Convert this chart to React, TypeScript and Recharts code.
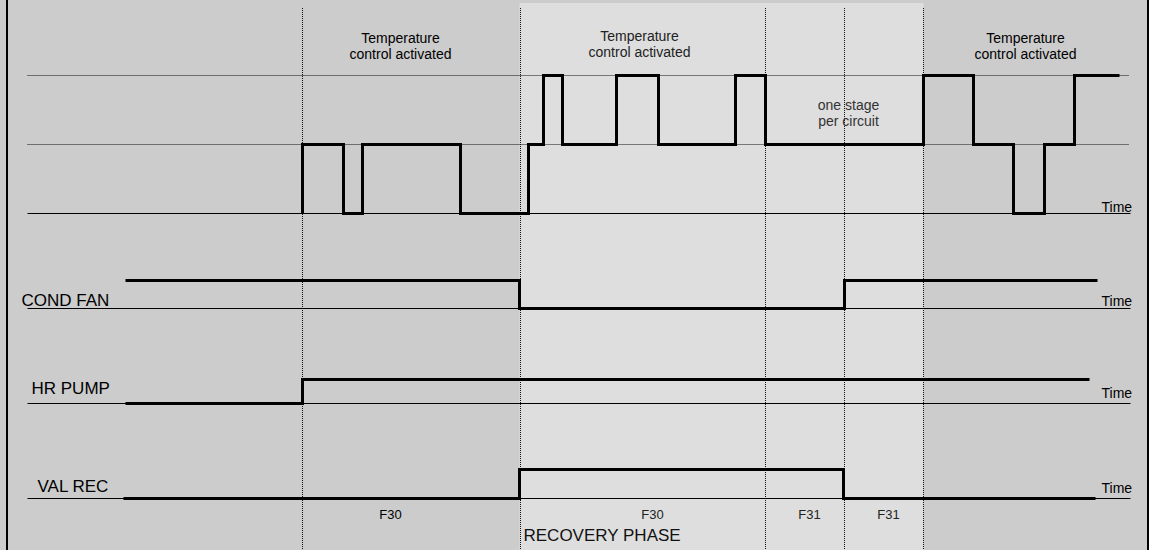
import React from 'react';
import {
  ComposedChart,
  Line,
  XAxis,
  YAxis,
  ReferenceLine,
  ReferenceArea,
  ReferenceDot,
} from 'recharts';

const W = 1149;
const H = 550;
const FONT = '"Liberation Sans", Arial, Helvetica, sans-serif';

// ---- time axis (arbitrary time units) ----
const timeStart = 27;
const timeEnd = 1130;
const phaseMarks = [302, 520, 765, 844, 923];
const recoveryStart = 519;
const recoveryEnd = 923;

// ---- signals (time of change, level after change) ----
const stageTimes = [302, 302, 343, 362, 460, 528, 543, 562, 616, 658, 735, 765, 923, 973, 1013, 1044, 1074, 1119];
const stageLevels = [0, 1, 0, 1, 0, 1, 2, 1, 2, 1, 2, 1, 2, 1, 0, 1, 2, 2];

const condFanTimes = [125, 519, 844, 1097];
const condFanLevels = [1, 0, 1, 1];

const hrPumpTimes = [125, 302, 1089];
const hrPumpLevels = [0, 1, 1];

const valRecTimes = [123, 519, 843, 1095];
const valRecLevels = [0, 1, 0, 0];

// ---- labels ----
const laneNames = ['COND FAN', 'HR PUMP', 'VAL REC'];
const phaseCodes = ['F30', 'F30', 'F31', 'F31'];
const tempNote = ['Temperature', 'control activated'];
const stageNote = ['one stage', 'per circuit'];

const zip = (ts: number[], vs: number[]) => ts.map((t, i) => ({ t, v: vs[i] }));
const stageData = zip(stageTimes, stageLevels);
const condFanData = zip(condFanTimes, condFanLevels);
const hrPumpData = zip(hrPumpTimes, hrPumpLevels);
const valRecData = zip(valRecTimes, valRecLevels);

// lane layout: baseline pixel & pixel height per level
const lanes = [
  { id: 'temp', base: 213.5, amp: 69 },
  { id: 'cond', base: 308.5, amp: 28 },
  { id: 'hr', base: 403.5, amp: 24 },
  { id: 'val', base: 498.5, amp: 29 },
];
const laneDomain = (base: number, amp: number): [number, number] => [(base - H) / amp, base / amp];

type TextOpts = { size: number; fill: string; anchor?: string; lh?: number; weight?: string };

const textRenderer = (lines: string[], opts: TextOpts) => (props: any) => {
  const vb = props.viewBox || { x: 0, y: 0, width: 0, height: 0 };
  const cx = vb.x + vb.width / 2;
  const cy = vb.y + vb.height / 2;
  const lh = opts.lh ?? opts.size * 1.2;
  const y0 = cy - ((lines.length - 1) * lh) / 2;
  return (
    <text
      x={cx}
      y={y0}
      fontFamily={FONT}
      fontSize={opts.size}
      fill={opts.fill}
      fontWeight={opts.weight ?? 'normal'}
      textAnchor={(opts.anchor as any) ?? 'middle'}
      dominantBaseline="central"
    >
      {lines.map((l, i) => (
        <tspan key={i} x={cx} y={y0 + i * lh} dominantBaseline="central">
          {l}
        </tspan>
      ))}
    </text>
  );
};

const note = (key: string, x: number, y: number, lines: string[], opts: TextOpts) => (
  <ReferenceDot
    key={key}
    yAxisId="frame"
    x={x}
    y={y}
    r={0}
    fill="none"
    stroke="none"
    ifOverflow="visible"
    label={textRenderer(lines, opts)}
  />
);

export default function App() {
  const dotted = { stroke: '#111', strokeWidth: 1, strokeDasharray: '1 1' };
  return (
    <div style={{ width: W, height: H, background: '#cccccc', position: 'relative' }}>
      <style>{`body{margin:0;}`}</style>
      <ComposedChart width={W} height={H} margin={{ top: 0, right: 0, bottom: 0, left: 0 }}>
        <XAxis type="number" dataKey="t" domain={[-0.5, W - 0.5]} allowDataOverflow hide />
        <YAxis yAxisId="frame" type="number" domain={[0, H]} reversed allowDataOverflow hide />
        {lanes.map((l) => (
          <YAxis
            key={l.id}
            yAxisId={l.id}
            type="number"
            domain={laneDomain(l.base, l.amp)}
            allowDataOverflow
            hide
          />
        ))}

        <ReferenceArea
          yAxisId="frame"
          x1={recoveryStart}
          x2={recoveryEnd}
          y1={3}
          y2={H}
          fill="#dedede"
          fillOpacity={1}
          stroke="none"
          ifOverflow="visible"
        />

        {/* frame borders */}
        <ReferenceLine yAxisId="frame" x={6.5} stroke="#000" strokeWidth={2} />
        <ReferenceLine yAxisId="frame" x={1147.5} stroke="#000" strokeWidth={2} />

        {/* phase marks */}
        {phaseMarks.map((m) => (
          <ReferenceLine
            key={'pm' + m}
            yAxisId="frame"
            segment={[
              { x: m, y: 8 },
              { x: m, y: H },
            ]}
            {...dotted}
          />
        ))}

        {/* stage level guides */}
        {[1, 2].map((lv) => (
          <ReferenceLine
            key={'lv' + lv}
            yAxisId="temp"
            segment={[
              { x: timeStart, y: lv },
              { x: 1128, y: lv },
            ]}
            {...dotted}
          />
        ))}

        {/* time baselines */}
        {lanes.map((l) => (
          <ReferenceLine
            key={'base' + l.id}
            yAxisId={l.id}
            segment={[
              { x: timeStart, y: 0 },
              { x: timeEnd, y: 0 },
            ]}
            stroke="#000"
            strokeWidth={1}
          />
        ))}

        <Line yAxisId="temp" data={stageData} dataKey="v" type="stepAfter" stroke="#000" strokeWidth={3} dot={false} activeDot={false} isAnimationActive={false} />
        <Line yAxisId="cond" data={condFanData} dataKey="v" type="stepAfter" stroke="#000" strokeWidth={3} dot={false} activeDot={false} isAnimationActive={false} />
        <Line yAxisId="hr" data={hrPumpData} dataKey="v" type="stepAfter" stroke="#000" strokeWidth={3} dot={false} activeDot={false} isAnimationActive={false} />
        <Line yAxisId="val" data={valRecData} dataKey="v" type="stepAfter" stroke="#000" strokeWidth={3} dot={false} activeDot={false} isAnimationActive={false} />

        {note('t1', 400, 46, tempNote, { size: 14, fill: '#000', lh: 16.5 })}
        {note('t2', 639, 44, tempNote, { size: 14, fill: '#222', lh: 16.5 })}
        {note('t3', 1025, 46, tempNote, { size: 14, fill: '#000', lh: 16.5 })}
        {note('s1', 848, 113, stageNote, { size: 14, fill: '#333', lh: 16.5 })}

        {note('n0', 21, 300, [laneNames[0]], { size: 17, fill: '#000', anchor: 'start' })}
        {note('n1', 31, 388, [laneNames[1]], { size: 17, fill: '#000', anchor: 'start' })}
        {note('n2', 37, 486, [laneNames[2]], { size: 17, fill: '#000', anchor: 'start' })}

        {[207, 301, 393, 488].map((y, i) =>
          note('time' + i, 1101, y, ['Time'], { size: 14, fill: '#000', anchor: 'start' })
        )}

        {[390, 652, 809, 888].map((x, i) =>
          note('f' + i, x, 514, [phaseCodes[i]], { size: 13, fill: i === 0 ? '#000' : '#222' })
        )}

        {note('rp', 523, 535, ['RECOVERY PHASE'], { size: 17, fill: '#111', anchor: 'start' })}
      </ComposedChart>
    </div>
  );
}
